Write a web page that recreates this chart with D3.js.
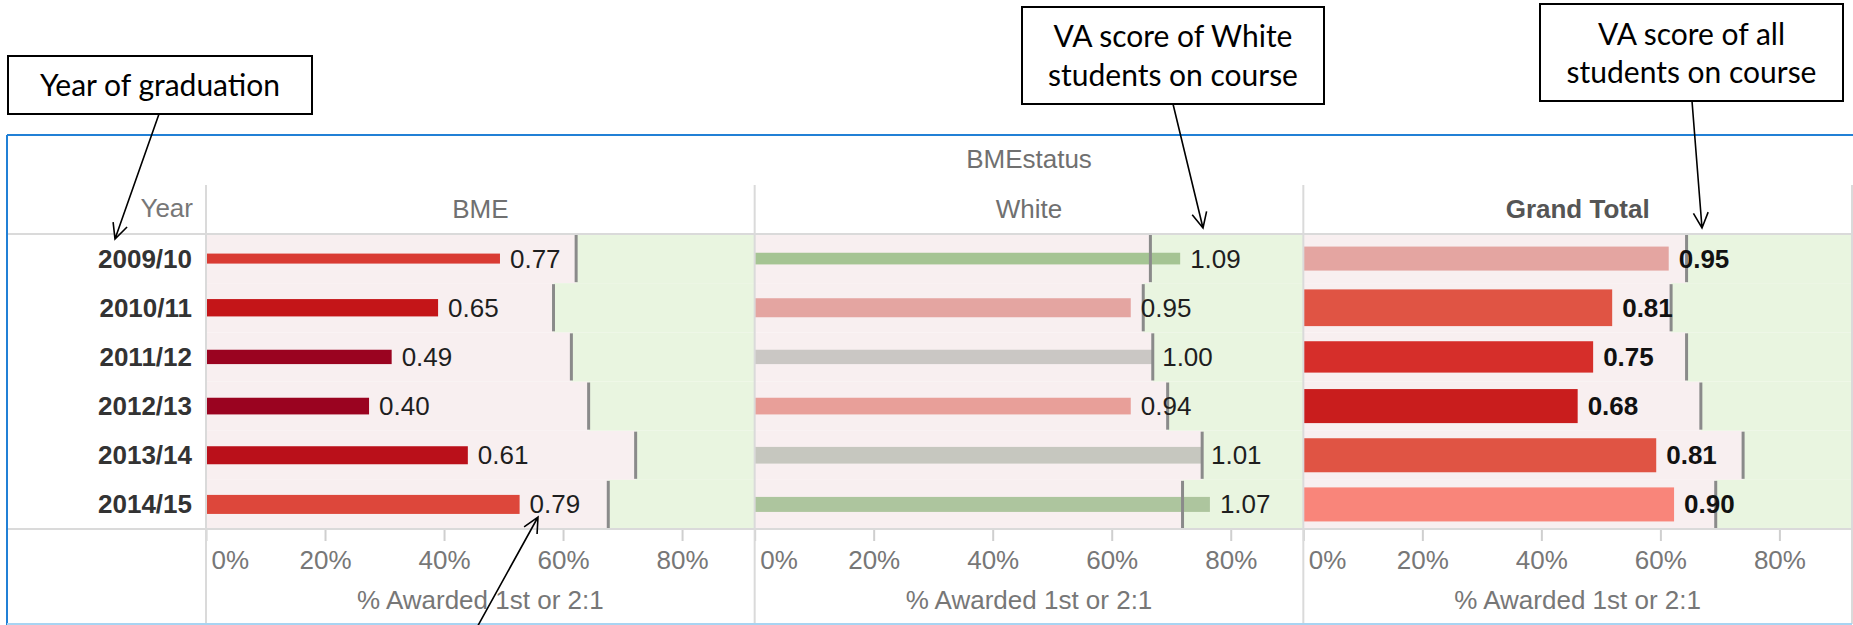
<!DOCTYPE html>
<html>
<head>
<meta charset="utf-8">
<script src="https://cdn.jsdelivr.net/npm/d3@7"></script>
<style>
  body { margin: 0; background: #fff; }
  svg { display: block; }
  .tab { font-family: "Liberation Sans", Arial, sans-serif; font-size: 26px; }
  .note { font-family: Lato, "Open Sans", sans-serif; font-size: 30px; fill: #000; }
</style>
</head>
<body>
<div id="viz"></div>
<script>
// Data
const years = ["2009/10", "2010/11", "2011/12", "2012/13", "2013/14", "2014/15"];
const groups = ["BME", "White", "Grand Total"];

const bmePct = [0.494, 0.390, 0.312, 0.274, 0.440, 0.527];
const bmeExpected = [0.622, 0.584, 0.614, 0.643, 0.722, 0.676];
const bmeVA = [0.77, 0.65, 0.49, 0.40, 0.61, 0.79];
const bmeCount = [30, 52, 43, 50, 54, 57];

const whitePct = [0.715, 0.632, 0.668, 0.632, 0.750, 0.765];
const whiteExpected = [0.665, 0.653, 0.669, 0.694, 0.752, 0.719];
const whiteVA = [1.09, 0.95, 1.00, 0.94, 1.01, 1.07];
const whiteCount = [35, 57, 43, 50, 50, 45];

const totalPct = [0.614, 0.519, 0.487, 0.461, 0.593, 0.623];
const totalExpected = [0.644, 0.618, 0.644, 0.668, 0.739, 0.693];
const totalVA = [0.95, 0.81, 0.75, 0.68, 0.81, 0.90];
const totalCount = [72, 110, 94, 102, 102, 102];

const tickValues = [0, 0.2, 0.4, 0.6, 0.8];

// Layout
const width = 1853;
const height = 625;
const frame = { left: 7, top: 135, right: 1852, bottom: 624 };
const yearColRight = 206;
const headerTop = 185;
const headerBottom = 234;
const rowsBottom = 529;
const panelWidth = (frame.right - yearColRight) / 3;
const gridColor = "#dadada";

const svg = d3.select("#viz")
    .append("svg")
    .attr("width", width)
    .attr("height", height);

const x = d3.scaleLinear().domain([0, 0.922]).range([0, panelWidth]);
const y = d3.scaleBand().domain(years).range([headerBottom, rowsBottom]);
const barSize = d3.scaleLinear().domain([0, 110]).range([0, 36.7]);
const vaColor = d3.scaleLinear()
    .domain([0.49, 0.65, 0.75, 0.81, 0.90, 0.95, 1.00, 1.09])
    .range(["#9a0320", "#c41518", "#d62e2a", "#e05444", "#f9857a", "#e4a5a1", "#cac7c4", "#a5c493"])
    .clamp(true);

const panels = [
    { name: groups[0], pct: bmePct, expected: bmeExpected, va: bmeVA, count: bmeCount, bold: false },
    { name: groups[1], pct: whitePct, expected: whiteExpected, va: whiteVA, count: whiteCount, bold: false },
    { name: groups[2], pct: totalPct, expected: totalExpected, va: totalVA, count: totalCount, bold: true },
];

const rowMid = yr => y(yr) + y.bandwidth() / 2;


// Panels
panels.forEach((p, i) => {
    const g = svg.append("g")
        .attr("class", "tab")
        .attr("transform", "translate(" + (yearColRight + i * panelWidth) + ",0)");

    const rows = years.map((yr, k) => ({
        year: yr, pct: p.pct[k], expected: p.expected[k], va: p.va[k], count: p.count[k]
    }));

    // below / above expected background
    g.selectAll(".band-low")
        .data(rows)
        .enter()
        .append("rect")
        .attr("x", x(0))
        .attr("y", d => y(d.year))
        .attr("width", d => x(d.expected))
        .attr("height", y.bandwidth())
        .attr("fill", "#f8eff0");
    g.selectAll(".band-high")
        .data(rows)
        .enter()
        .append("rect")
        .attr("x", d => x(d.expected))
        .attr("y", d => y(d.year))
        .attr("width", d => panelWidth - x(d.expected))
        .attr("height", y.bandwidth())
        .attr("fill", "#e9f5e0");

    // bars
    g.selectAll(".bar")
        .data(rows)
        .enter()
        .append("rect")
        .attr("x", x(0))
        .attr("y", d => rowMid(d.year) - barSize(d.count) / 2)
        .attr("width", d => x(d.pct))
        .attr("height", d => barSize(d.count))
        .attr("fill", d => vaColor(d.va));

    // expected line
    g.selectAll(".ref")
        .data(rows)
        .enter()
        .append("line")
        .attr("x1", d => x(d.expected))
        .attr("x2", d => x(d.expected))
        .attr("y1", d => y(d.year) + 1)
        .attr("y2", d => y(d.year) + y.bandwidth() - 1)
        .attr("stroke", "#8a8a8a")
        .attr("stroke-width", 3);

    // VA labels
    g.selectAll(".lbl")
        .data(rows)
        .enter()
        .append("text")
        .attr("x", d => x(d.pct) + 10)
        .attr("y", d => rowMid(d.year) + 9)
        .attr("font-weight", p.bold ? "bold" : "normal")
        .attr("fill", p.bold ? "#111" : "#1e1e1e")
        .text(d => d3.format(".2f")(d.va));

    // header
    g.append("text")
        .attr("x", panelWidth / 2)
        .attr("y", 218)
        .attr("text-anchor", "middle")
        .attr("font-weight", p.bold ? "bold" : "normal")
        .attr("fill", p.bold ? "#555" : "#707070")
        .text(p.name);

    // axis
    const axis = g.append("g")
        .attr("transform", "translate(0," + rowsBottom + ")")
        .call(d3.axisBottom(x)
            .tickValues(tickValues)
            .tickFormat(d3.format(".0%"))
            .tickSizeInner(12)
            .tickSizeOuter(0)
            .tickPadding(10));
    axis.select(".domain").remove();
    axis.attr("font-size", null).attr("font-family", null);
    axis.selectAll("line").attr("stroke", "#cfcfcf").attr("stroke-width", 2);
    axis.selectAll("text").attr("fill", "#777");
    axis.selectAll(".tick").filter(d => d === 0).select("text")
        .attr("text-anchor", "start")
        .attr("x", 5);

    g.append("text")
        .attr("x", panelWidth / 2)
        .attr("y", 609)
        .attr("text-anchor", "middle")
        .attr("fill", "#777")
        .text("% Awarded 1st or 2:1");
});


// Year column
const yearCol = svg.append("g").attr("class", "tab");
yearCol.selectAll(".year")
    .data(years)
    .enter()
    .append("text")
    .attr("x", 192)
    .attr("y", d => rowMid(d) + 9)
    .attr("text-anchor", "end")
    .attr("font-weight", "bold")
    .attr("fill", "#333")
    .text(d => d);
yearCol.append("text")
    .attr("x", 193)
    .attr("y", 217)
    .attr("text-anchor", "end")
    .attr("fill", "#777")
    .text("Year");
yearCol.append("text")
    .attr("x", (yearColRight + frame.right) / 2)
    .attr("y", 168)
    .attr("text-anchor", "middle")
    .attr("fill", "#707070")
    .text("BMEstatus");


// Grid lines
[headerBottom, rowsBottom].forEach(yy => {
    svg.append("line")
        .attr("x1", frame.left).attr("x2", frame.right)
        .attr("y1", yy).attr("y2", yy)
        .attr("stroke", gridColor).attr("stroke-width", 2);
});
d3.range(4).forEach(i => {
    const xx = yearColRight + i * panelWidth;
    svg.append("line")
        .attr("x1", xx).attr("x2", xx)
        .attr("y1", headerTop).attr("y2", frame.bottom)
        .attr("stroke", gridColor).attr("stroke-width", 2);
});


// Outer frame
svg.append("line")
    .attr("x1", frame.left).attr("x2", width)
    .attr("y1", frame.top).attr("y2", frame.top)
    .attr("stroke", "#2180d6").attr("stroke-width", 2);
svg.append("line")
    .attr("x1", frame.left).attr("x2", frame.left)
    .attr("y1", frame.top).attr("y2", height)
    .attr("stroke", "#2180d6").attr("stroke-width", 2);
svg.append("line")
    .attr("x1", frame.left).attr("x2", frame.right)
    .attr("y1", frame.bottom).attr("y2", frame.bottom)
    .attr("stroke", "#a8d4f2").attr("stroke-width", 2);


// Callouts
function arrow(x1, y1, x2, y2) {
    const a = Math.atan2(y2 - y1, x2 - x1);
    const len = 17, spread = 0.45;
    svg.append("path")
        .attr("d", "M" + x1 + "," + y1 + "L" + x2 + "," + y2
            + "M" + (x2 - len * Math.cos(a - spread)) + "," + (y2 - len * Math.sin(a - spread))
            + "L" + x2 + "," + y2
            + "L" + (x2 - len * Math.cos(a + spread)) + "," + (y2 - len * Math.sin(a + spread)))
        .attr("fill", "none")
        .attr("stroke", "#000")
        .attr("stroke-width", 1.6);
}

function callout(bx, by, bw, bh, lines, baselines) {
    svg.append("rect")
        .attr("x", bx).attr("y", by)
        .attr("width", bw).attr("height", bh)
        .attr("fill", "#fff")
        .attr("stroke", "#000")
        .attr("stroke-width", 2);
    lines.forEach((t, i) => {
        svg.append("text")
            .attr("class", "note")
            .attr("x", bx + bw / 2)
            .attr("y", baselines[i])
            .attr("text-anchor", "middle")
            .text(t);
    });
}

callout(8, 56, 304, 58, ["Year of graduation"], [96]);
arrow(159, 114, 115, 239);

callout(1022, 7, 302, 97, ["VA score of White", "students on course"], [47, 86]);
arrow(1173, 104, 1203, 228);

callout(1540, 4, 303, 97, ["VA score of all", "students on course"], [45, 83]);
arrow(1692, 101, 1702, 228);

arrow(470, 640, 538, 517);
</script>
</body>
</html>
